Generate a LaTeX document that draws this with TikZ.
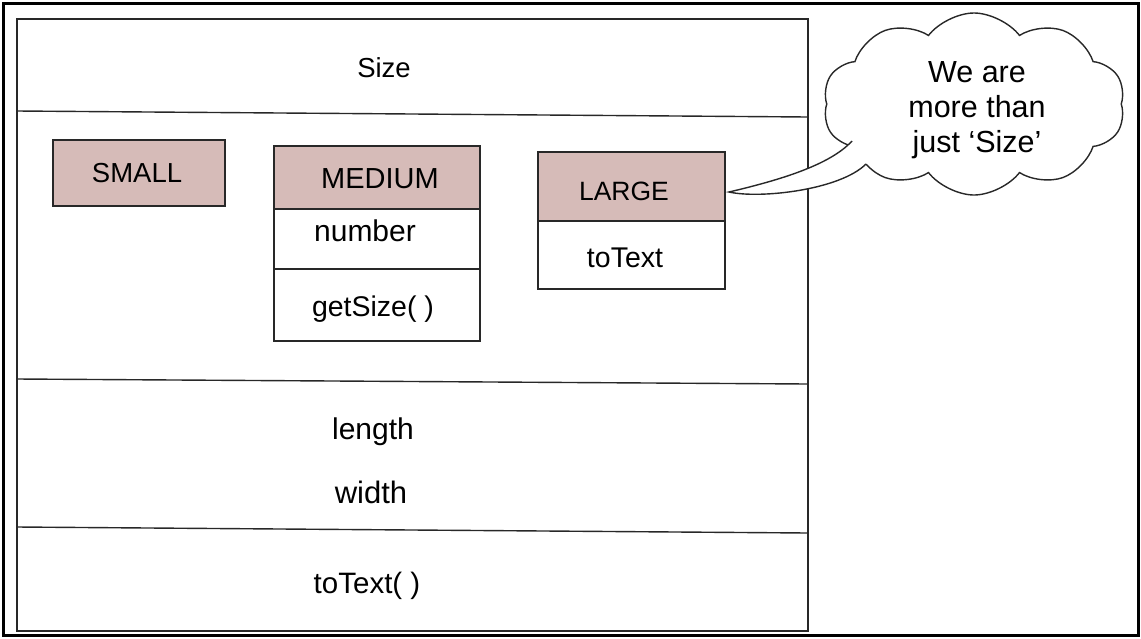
\documentclass[tikz,border=0pt]{standalone}
\usepackage{fontspec}
\setmainfont{Liberation Sans}
\usetikzlibrary{shapes.symbols}
\definecolor{hdr}{RGB}{214,187,184}
\definecolor{ink}{RGB}{40,40,40}
\newcommand{\fsz}[1]{\fontsize{#1pt}{#1pt}\selectfont}
\tikzset{
  frameline/.style={draw=black, line width=3pt},
  boxline/.style={draw=ink, line width=1.4pt},
  hdrbox/.style={boxline, fill=hdr},
  lbl/.style={anchor=base, inner sep=0pt, font=\fsz{27.5}, text=black},
  biglbl/.style={lbl, font=\fsz{30}},
  cloudlbl/.style={anchor=base, inner sep=0pt, font=\fsz{30.5}, text=black},
}
\begin{document}
\begin{tikzpicture}[x=1pt, y=-1pt]
\useasboundingbox (0,0) rectangle (1141,638);
% outer frame
\draw[frameline] (3,3) rectangle (1138,635);
% enum class outline and its compartments
\draw[boxline] (17,19) rectangle (808,631);
\draw[boxline] (17,111) -- (808,117);
\draw[boxline] (17,379) -- (808,384);
\draw[boxline] (17,527) -- (808,533);
\node[lbl] (size) at (384,77) {Size};

% SMALL
\draw[hdrbox] (53,140) rectangle (225,206);
\node[lbl] (small) at (137,182) {SMALL};

% MEDIUM
\draw[hdrbox] (274,146) rectangle (480,209);
\draw[boxline] (274,209) rectangle (480,341);
\draw[boxline] (274,269) -- (480,269);
\node[lbl, font=\fsz{29}] (medium) at (380,188) {MEDIUM};
\node[biglbl] (number) at (365,241) {number};
\node[lbl, font=\fsz{28.5}] (getsize) at (373,316) {getSize( )};

% LARGE
\draw[hdrbox] (538,152) rectangle (725,221);
\draw[boxline] (538,221) rectangle (725,289);
\draw[boxline, line width=2.4pt] (538,221) -- (725,221);
\node[lbl, font=\fsz{26.5}] (large) at (624,200) {LARGE};
\node[lbl, font=\fsz{28.5}] (totext) at (625,267) {toText};

% fields and methods
\node[biglbl] (length) at (373,439) {length};
\node[biglbl, font=\fsz{31}] (width) at (371,503) {width};
\node[biglbl, font=\fsz{29.5}] (totextm) at (367,593) {toText( )};

% speech cloud
\node[cloud, draw=ink, line width=1.4pt, cloud puffs=10, cloud puff arc=105, aspect=1.65,
      minimum width=302pt, minimum height=182pt, inner sep=0pt] (cl) at (974,104) {};
\coordinate (ta) at (852,141);
\coordinate (tb) at (866,164);
\coordinate (tip) at (729,192);
\fill[white] (ta) .. controls (830,165) and (780,180) .. (tip)
   .. controls (760,199) and (840,190) .. (tb) -- (880,150) -- cycle;
\draw[ink, line width=1.4pt] (ta) .. controls (830,165) and (780,180) .. (tip)
   .. controls (760,199) and (840,190) .. (tb);
\node[cloudlbl] (c1) at (977,82) {We are};
\node[cloudlbl] (c2) at (977,117) {more than};
\node[cloudlbl] (c3) at (977,152) {just ‘Size’};
\end{tikzpicture}
\end{document}
